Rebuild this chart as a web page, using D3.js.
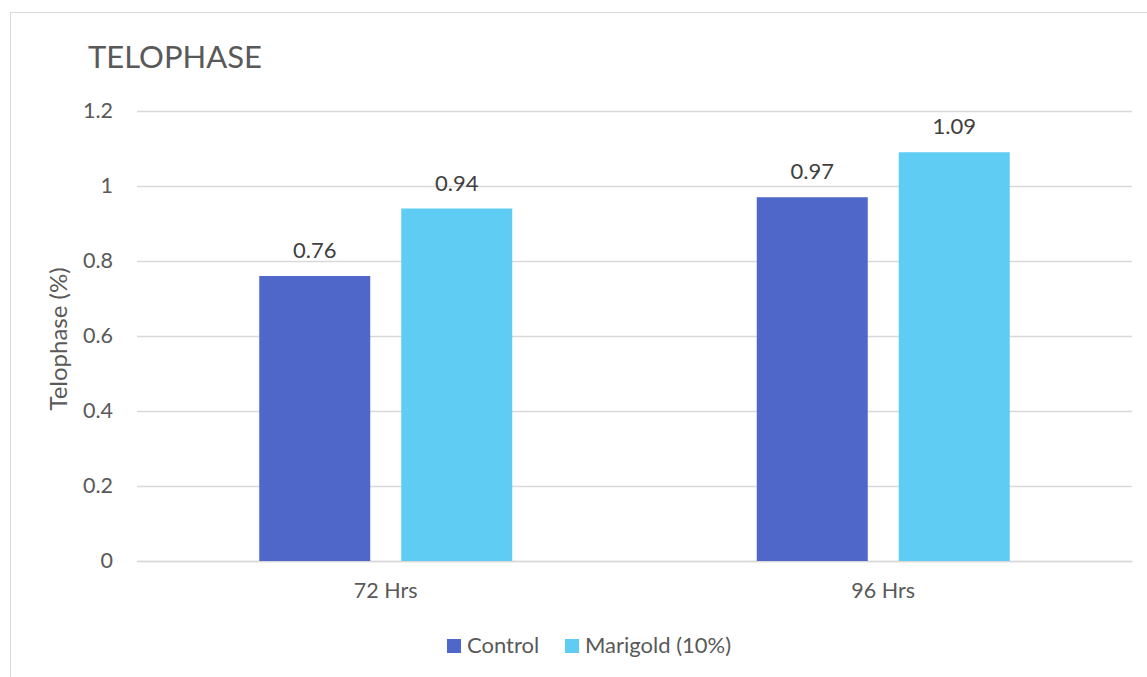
<!DOCTYPE html>
<html>
<head>
<meta charset="utf-8">
<script src="https://cdn.jsdelivr.net/npm/d3@7"></script>
<style>
  html, body { margin: 0; padding: 0; background: #fff; }
  svg { display: block; font-family: Lato, "Open Sans", sans-serif; }
</style>
</head>
<body>
<svg id="chart" width="1147" height="677"></svg>
<script>
const categories = ["72 Hrs", "96 Hrs"];
const seriesNames = ["Control", "Marigold (10%)"];
const controlValues = [0.76, 0.97];
const marigoldValues = [0.94, 1.09];
const yTicks = [0, 0.2, 0.4, 0.6, 0.8, 1, 1.2];
const colors = ["#4F67C8", "#5FCDF3"];

const seriesValues = [controlValues, marigoldValues];

const svg = d3.select("#chart");
const plot = { left: 137, right: 1132, top: 111, bottom: 561 };

// chart border
svg.append("rect")
  .attr("x", 10.5).attr("y", 12.5)
  .attr("width", 1150).attr("height", 700)
  .attr("fill", "#fff").attr("stroke", "#d9d9d9").attr("stroke-width", 1);

const x0 = d3.scaleBand().domain(categories).range([plot.left, plot.right]).padding(0);
const innerOff = 122.25;
const x1 = d3.scaleBand().domain(seriesNames)
  .range([innerOff, x0.bandwidth() - innerOff])
  .paddingInner(0.2183).paddingOuter(0);
const y = d3.scaleLinear().domain([0, 1.2]).range([plot.bottom, plot.top]);

// gridlines + tick labels
const yAxis = d3.axisLeft(y).tickValues(yTicks)
  .tickSize(-(plot.right - plot.left))
  .tickPadding(24)
  .tickFormat(d => d3.format("")(d));
const gy = svg.append("g").attr("transform", `translate(${plot.left},0)`).call(yAxis);
gy.select(".domain").remove();
gy.selectAll(".tick line").attr("stroke", "#d9d9d9").attr("stroke-width", 1.3);
gy.selectAll(".tick text").attr("fill", "#595959").attr("font-size", 21.5).attr("font-family", "Lato");

// x axis labels
const xAxis = d3.axisBottom(x0).tickSize(0).tickPadding(22);
const gx = svg.append("g").attr("transform", `translate(0,${plot.bottom})`).call(xAxis);
gx.select(".domain").attr("stroke", "#d9d9d9").attr("stroke-width", 1.3);
gx.selectAll(".tick text").attr("fill", "#595959").attr("font-size", 21.5).attr("font-family", "Lato");

// bars
const data = [];
categories.forEach((c, i) => seriesNames.forEach((s, j) => data.push({ c, s, j, v: seriesValues[j][i] })));

const groups = svg.append("g");
groups.selectAll("rect.bar").data(data).join("rect")
  .attr("class", "bar")
  .attr("x", d => x0(d.c) + x1(d.s))
  .attr("y", d => y(d.v))
  .attr("width", x1.bandwidth())
  .attr("height", d => y(0) - y(d.v))
  .attr("fill", d => colors[d.j]);

groups.selectAll("text.lbl").data(data).join("text")
  .attr("class", "lbl")
  .attr("x", d => x0(d.c) + x1(d.s) + x1.bandwidth() / 2)
  .attr("y", d => y(d.v) - 18)
  .attr("text-anchor", "middle")
  .attr("fill", "#404040")
  .attr("font-size", 22)
  .text(d => d.v.toFixed(2));

// title
svg.append("text")
  .attr("x", 88).attr("y", 68)
  .attr("fill", "#595959").attr("font-size", 31)
  .text("TELOPHASE");

// y-axis title
svg.append("text")
  .attr("transform", `translate(67,${(plot.top + plot.bottom) / 2 + 3}) rotate(-90)`)
  .attr("text-anchor", "middle")
  .attr("fill", "#595959").attr("font-size", 24)
  .text("Telophase (%)");

// legend
const legendX = [447, 565];
const lg = svg.append("g");
seriesNames.forEach((s, j) => {
  lg.append("rect").attr("x", legendX[j]).attr("y", 639).attr("width", 14).attr("height", 14).attr("fill", colors[j]);
  lg.append("text").attr("x", legendX[j] + 20).attr("y", 653)
    .attr("fill", "#595959").attr("font-size", 22).text(s);
});
</script>
</body>
</html>
